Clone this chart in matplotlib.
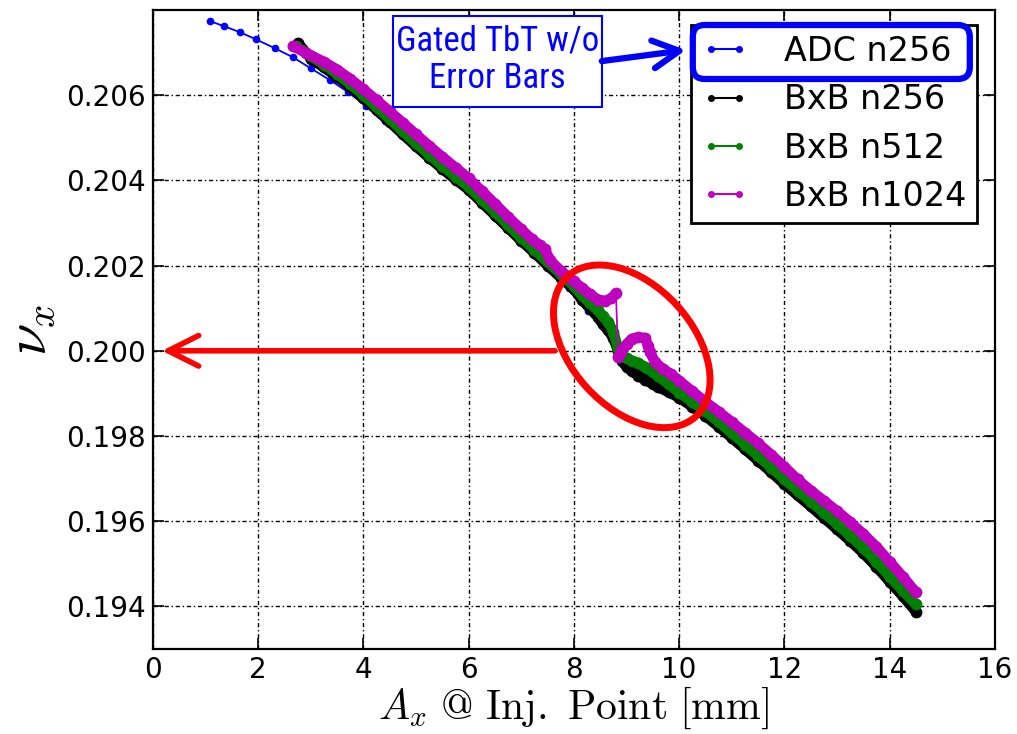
import matplotlib
matplotlib.use('Agg')
import matplotlib.pyplot as plt
from matplotlib import font_manager as fm
from matplotlib.lines import Line2D
from matplotlib.patches import Ellipse, FancyBboxPatch, Rectangle
from matplotlib.transforms import ScaledTranslation

plt.rcParams['mathtext.fontset'] = 'cm'

# ADC n256 (gated TbT)
adc_x = [1.08, 1.35, 1.65, 1.96, 2.32, 2.66, 3.00, 3.37, 3.71, 4.05, 4.41, 4.75,
         5.10, 5.46, 5.81, 6.16, 6.51, 6.86, 7.21, 7.56, 7.91, 8.27, 8.60, 8.94,
         9.35, 9.70, 10.04, 10.40, 10.75, 11.10, 11.45, 11.80, 12.15, 12.50,
         12.85, 13.20, 13.55, 13.90, 14.25, 14.50]
adc_y = [0.20774, 0.20762, 0.20748, 0.20731, 0.20710, 0.20689, 0.20663, 0.20635,
         0.20607, 0.20574, 0.20539, 0.20504, 0.20469, 0.20431, 0.20396, 0.20358,
         0.20312, 0.20272, 0.20232, 0.20192, 0.20147, 0.20093, 0.20050, 0.19985,
         0.19946, 0.19908, 0.19885, 0.19856, 0.19822, 0.19785, 0.19747, 0.19710,
         0.19679, 0.19635, 0.19597, 0.19560, 0.19518, 0.19472, 0.19424, 0.19388]

# BxB n256
b256_x = [2.76, 3.0, 3.25, 3.5, 3.75, 4.0, 4.25, 4.5, 4.75, 5.0, 5.25, 5.5, 5.75,
          6.0, 6.25, 6.5, 6.75, 7.0, 7.25, 7.5, 7.75, 8.0, 8.15, 8.3, 8.45, 8.55,
          8.65, 8.75, 8.84, 8.92, 9.0, 9.1, 9.22, 9.35, 9.5, 9.6, 9.8, 10.0,
          10.25, 10.5, 10.75, 11.0, 11.25, 11.5, 11.75, 12.0, 12.25, 12.5, 12.75,
          13.0, 13.25, 13.5, 13.75, 14.0, 14.25, 14.5]
b256_y = [0.20722, 0.20686, 0.20665, 0.20643, 0.20619, 0.20593, 0.20565, 0.20537,
          0.20508, 0.20480, 0.20453, 0.20427, 0.20402, 0.20378, 0.20348, 0.20318,
          0.20288, 0.20258, 0.20230, 0.20200, 0.20172, 0.20144, 0.20120, 0.20100,
          0.20080, 0.20062, 0.20048, 0.20030, 0.20000, 0.19975, 0.19962, 0.19952,
          0.19942, 0.19932, 0.19922, 0.19915, 0.19903, 0.19890, 0.19869, 0.19847,
          0.19822, 0.19796, 0.19769, 0.19742, 0.19715, 0.19687, 0.19661, 0.19635,
          0.19608, 0.19581, 0.19554, 0.19525, 0.19493, 0.19458, 0.19424, 0.19388]

# BxB n512
b512_x = [2.72, 3.0, 3.25, 3.5, 3.75, 4.0, 4.25, 4.5, 4.75, 5.0, 5.25, 5.5, 5.75,
          6.0, 6.25, 6.5, 6.75, 7.0, 7.25, 7.5, 7.75, 8.0, 8.15, 8.3, 8.45, 8.55,
          8.65, 8.75, 8.84, 8.92, 9.0, 9.1, 9.22, 9.35, 9.5, 9.6, 9.8, 10.0,
          10.25, 10.5, 10.75, 11.0, 11.25, 11.5, 11.75, 12.0, 12.25, 12.5, 12.75,
          13.0, 13.25, 13.5, 13.75, 14.0, 14.25, 14.5]
b512_y = [0.20715, 0.20692, 0.20672, 0.20650, 0.20626, 0.20600, 0.20572, 0.20544,
          0.20515, 0.20487, 0.20460, 0.20434, 0.20409, 0.20385, 0.20355, 0.20325,
          0.20295, 0.20265, 0.20237, 0.20208, 0.20180, 0.20152, 0.20130, 0.20112,
          0.20095, 0.20082, 0.20068, 0.20045, 0.20005, 0.19988, 0.19982, 0.19977,
          0.19972, 0.19962, 0.19950, 0.19940, 0.19922, 0.19902, 0.19880, 0.19858,
          0.19833, 0.19807, 0.19780, 0.19753, 0.19726, 0.19698, 0.19672, 0.19646,
          0.19620, 0.19593, 0.19566, 0.19537, 0.19505, 0.19470, 0.19437, 0.19405]

# BxB n1024
b1024_x = [2.66, 2.9, 3.25, 3.5, 3.75, 4.0, 4.25, 4.5, 4.75, 5.0, 5.25, 5.5, 5.75,
           6.0, 6.25, 6.5, 6.75, 7.0, 7.2, 7.35, 7.45, 7.55, 7.75, 8.0, 8.15, 8.3,
           8.46, 8.6, 8.71, 8.80, 8.84, 8.90, 9.0, 9.1, 9.22, 9.35, 9.41, 9.45,
           9.54, 9.7, 9.85, 10.0, 10.25, 10.5, 10.75, 11.0, 11.25, 11.5, 11.75,
           12.0, 12.25, 12.5, 12.75, 13.0, 13.25, 13.5, 13.75, 14.0, 14.25, 14.5]
b1024_y = [0.20715, 0.20700, 0.20678, 0.20660, 0.20638, 0.20614, 0.20588, 0.20562,
           0.20535, 0.20508, 0.20481, 0.20455, 0.20430, 0.20405, 0.20375, 0.20345,
           0.20314, 0.20285, 0.20262, 0.20248, 0.20238, 0.20212, 0.20188, 0.20163,
           0.20148, 0.20133, 0.20120, 0.20117, 0.20123, 0.20135, 0.19985, 0.19997,
           0.20015, 0.20028, 0.20032, 0.20030, 0.20012, 0.19997, 0.19973, 0.19957,
           0.19945, 0.19930, 0.19905, 0.19880, 0.19857, 0.19833, 0.19808, 0.19783,
           0.19756, 0.19728, 0.19698, 0.19672, 0.19648, 0.19624, 0.19598, 0.19570,
           0.19540, 0.19505, 0.19470, 0.19433]
jump = 30  # magenta jumps down between index 29 and 30

labels = ['ADC n256', 'BxB n256', 'BxB n512', 'BxB n1024']
colors = ['blue', 'black', 'green', 'm']

fig = plt.figure(figsize=(10.17, 7.34), dpi=100)
ax = fig.add_axes([0.1504, 0.1158, 0.8278, 0.8706])

ax.plot(adc_x, adc_y, '-o', color='blue', lw=1.3, ms=4.5, zorder=2)
band = dict(lw=7.5, marker='o', ms=7.5, solid_capstyle='round', zorder=3)
ax.plot(b256_x, b256_y, color='black', **band)
ax.plot(b512_x, b512_y, color='green', **band)
ax.plot(b1024_x[:jump], b1024_y[:jump], color='m', **band)
ax.plot(b1024_x[jump - 1:jump + 1], b1024_y[jump - 1:jump + 1], color='m', lw=1.3, zorder=3)
ax.plot(b1024_x[jump:], b1024_y[jump:], color='m', **band)

ax.set_xlim(0, 16)
ax.set_ylim(0.193, 0.208)
ax.set_xticks(range(0, 17, 2))
ax.set_yticks([0.194, 0.196, 0.198, 0.200, 0.202, 0.204, 0.206])
ax.grid(True, color='black', linestyle=(0, (3, 2, 1, 2)), lw=1)
ax.tick_params(direction='in', top=True, right=True, length=8, width=1.2,
               labelsize=20)
ax.tick_params(axis='y', pad=5)
ax.tick_params(axis='x', pad=5)
for s in ax.spines.values():
    s.set_linewidth(1.6)

ax.set_xlabel(r'$A_x\ \mathrm{@\ Inj.\ Point\ [mm]}$', fontsize=30, labelpad=1)
ax.set_ylabel(r'$\nu_x$', fontsize=42, labelpad=6)

handles = [Line2D([], [], color=c, marker='o', ms=4, lw=1.5) for c in colors]
leg = ax.legend(handles, labels, loc='upper right', bbox_to_anchor=(0.9786, 0.9765),
                borderaxespad=0, numpoints=2, fontsize=24, fancybox=False,
                framealpha=1, edgecolor='black', handlelength=1.44,
                handletextpad=1.05, labelspacing=0.46, borderpad=0.3)
leg.get_frame().set_linewidth(2)

# annotation box (a narrow font if one is installed)
names = {f.name for f in fm.fontManager.ttflist}
box_font, box_size = 'Liberation Sans', 23
for fam, size in [('Liberation Sans Narrow', 26), ('Roboto Condensed', 25),
                  ('DejaVu Sans Condensed', 22)]:
    if fam in names:
        box_font, box_size = fam, size
        break
ax.add_patch(Rectangle((4.56, 0.205718), 3.97, 0.002137, fc='white', ec='blue',
                       lw=1.5, zorder=6))
ax.text(6.545, 0.20683, 'Gated TbT w/o\nError Bars', ha='center', va='center',
        color='blue', fontsize=box_size, linespacing=1.15, family=box_font, zorder=6)

ax.annotate('', xy=(10.13, 0.20706), xytext=(8.53, 0.20680),
            arrowprops=dict(arrowstyle='->,head_length=0.95,head_width=0.5',
                            color='blue', lw=4.5, mutation_scale=20,
                            shrinkA=0, shrinkB=0), zorder=7)

hl = FancyBboxPatch((0, 0), 2.77, 0.54, boxstyle='round,pad=0,rounding_size=0.12',
                    transform=fig.dpi_scale_trans + ScaledTranslation(10.26, 0.20638, ax.transData),
                    fc='none', ec='blue', lw=4.5, zorder=7)
ax.add_patch(hl)

ell = Ellipse((0, 0), 1.90, 1.22, angle=-47.6,
              transform=fig.dpi_scale_trans + ScaledTranslation(9.10, 0.200105, ax.transData),
              fc='none', ec='red', lw=5, zorder=7)
ax.add_patch(ell)

ax.annotate('', xy=(0.17, 0.2000), xytext=(7.64, 0.2000),
            arrowprops=dict(arrowstyle='->,head_length=1.1,head_width=0.55',
                            color='red', lw=4, mutation_scale=20,
                            shrinkA=0, shrinkB=0), zorder=7)

fig.savefig('out.png', dpi=100)
